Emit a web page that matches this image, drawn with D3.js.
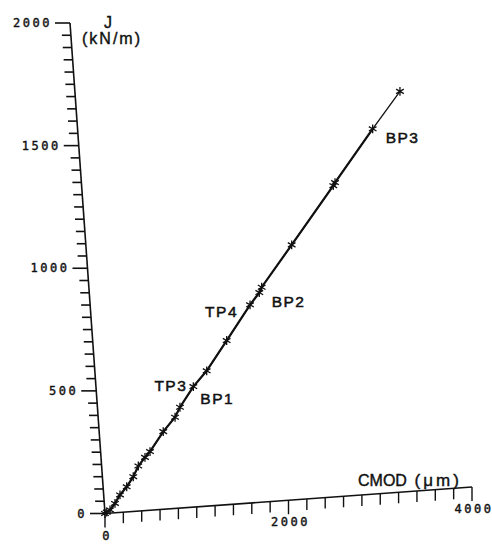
<!DOCTYPE html>
<html>
<head>
<meta charset="utf-8">
<script src="https://cdn.jsdelivr.net/npm/d3@7"></script>
<style>
  html, body { margin: 0; padding: 0; background: #fff; }
  svg { display: block; }
</style>
</head>
<body>
<script>
// ---- data ----
const cmod = [0, 20, 57, 116, 177, 256, 335, 398, 477, 536, 695, 834, 895, 1056, 1213, 1453, 1734, 1844, 1874, 2232, 2729, 2750, 3200, 3525];
const jVal = [0, 5, 13, 38, 71, 102, 141, 183, 216, 238, 315, 370, 409, 489, 549, 666, 804, 851, 872, 1035, 1263, 1275, 1482, 1626];
const xTickLabels = ["0", "2000", "4000"];
const yTickLabels = ["0", "500", "1000", "1500", "2000"];
const annotNames = ["TP3", "BP1", "TP4", "BP2", "BP3"];
const annotIndex = [13, 13, 16, 18, 22];

const W = 492, H = 546;
const svg = d3.select("body").append("svg").attr("width", W).attr("height", H);
const ink = "#111";

// skewed projection built from linear scales
const xAlongX = d3.scaleLinear().domain([0, 4000]).range([105, 472]);
const xAlongY = d3.scaleLinear().domain([0, 4000]).range([513.5, 487]);
const jAlongX = d3.scaleLinear().domain([0, 2000]).range([0, -35]);
const jAlongY = d3.scaleLinear().domain([0, 2000]).range([0, -490.5]);
const P = (u, v) => [xAlongX(u) + jAlongX(v), xAlongY(u) + jAlongY(v)];

const g = svg.append("g");

// axes lines
const o = P(0, 0), xe = P(4000, 0), ye = P(0, 2000);
g.append("line").attr("x1", o[0]).attr("y1", o[1]).attr("x2", xe[0]).attr("y2", xe[1])
  .attr("stroke", ink).attr("stroke-width", 1.6);
g.append("line").attr("x1", o[0]).attr("y1", o[1]).attr("x2", ye[0]).attr("y2", ye[1])
  .attr("stroke", ink).attr("stroke-width", 1.6);

// y ticks (horizontal on screen)
const yTicks = jAlongY.ticks(40);
yTicks.forEach(v => {
  const p = P(0, v);
  const major = v % 500 === 0;
  const len = major ? 15 : 9;
  g.append("line").attr("x1", p[0] - len).attr("y1", p[1]).attr("x2", p[0]).attr("y2", p[1])
    .attr("stroke", ink).attr("stroke-width", 1.6);
});
yTickLabels.forEach(t => {
  const p = P(0, +t);
  g.append("text").attr("x", p[0] - 18).attr("y", p[1]).attr("dy", "0.35em")
    .attr("text-anchor", "end")
    .attr("font-family", "DejaVu Sans Mono").attr("font-size", 12)
    .attr("letter-spacing", 2.5).attr("fill", ink)
    .attr("stroke", ink).attr("stroke-width", 0.4).text(t);
});

// x ticks (vertical on screen)
const xTicks = xAlongX.ticks(20);
xTicks.forEach(u => {
  const p = P(u, 0);
  const major = u % 2000 === 0;
  const len = major ? 14 : 11;
  g.append("line").attr("x1", p[0]).attr("y1", p[1]).attr("x2", p[0]).attr("y2", p[1] + len)
    .attr("stroke", ink).attr("stroke-width", 1.4);
});
xTickLabels.forEach(t => {
  const p = P(+t, 0);
  g.append("text").attr("x", p[0] + 2).attr("y", p[1] + 22).attr("dy", "0.35em")
    .attr("text-anchor", "middle")
    .attr("font-family", "DejaVu Sans Mono").attr("font-size", 12)
    .attr("letter-spacing", 2.5).attr("fill", ink)
    .attr("stroke", ink).attr("stroke-width", 0.4).text(t);
});

// axis titles
g.append("text").attr("x", 108).attr("y", 28).attr("text-anchor", "middle")
  .attr("font-family", "Liberation Sans, Arial, sans-serif").attr("font-size", 16)
  .attr("fill", ink).attr("stroke", ink).attr("stroke-width", 0.4).text("J");
g.append("text").attr("x", 112).attr("y", 44).attr("text-anchor", "middle")
  .attr("font-family", "Liberation Sans, Arial, sans-serif").attr("font-size", 16)
  .attr("letter-spacing", 2)
  .attr("fill", ink).attr("stroke", ink).attr("stroke-width", 0.4).text("(kN/m)");
const ct = g.append("text").attr("x", 358).attr("y", 486)
  .attr("font-family", "Liberation Sans, Arial, sans-serif").attr("font-size", 16)
  .attr("fill", ink).attr("stroke", ink).attr("stroke-width", 0.4);
ct.append("tspan").text("CMOD");
ct.append("tspan").attr("font-size", 17).attr("letter-spacing", 3).text(" (μm)");

// curve
const pts = cmod.map((c, i) => P(c, jVal[i]));
const line = d3.line().x(d => d[0]).y(d => d[1]);
g.append("path").attr("d", line(pts)).attr("fill", "none")
  .attr("stroke", ink).attr("stroke-width", 1.3);
g.append("path").attr("d", line(pts.slice(0, 23))).attr("fill", "none")
  .attr("stroke", ink).attr("stroke-width", 2.2);

// markers
const sym = d3.symbol().type(d3.symbolAsterisk).size(55);
g.selectAll(".m").data(pts).enter().append("path")
  .attr("transform", d => `translate(${d[0]},${d[1]})`)
  .attr("d", sym).attr("fill", "none").attr("stroke", ink).attr("stroke-width", 1.3);

// annotations
const offs = { TP3: [-6, 4, "end"], BP1: [7, 17, "start"], TP4: [-12, 12, "end"], BP2: [10, 20, "start"], BP3: [13, 14, "start"] };
annotNames.forEach((n, i) => {
  const k = annotIndex[i];
  const p = P(cmod[k], jVal[k]);
  const o2 = offs[n];
  g.append("text").attr("x", p[0] + o2[0]).attr("y", p[1] + o2[1])
    .attr("text-anchor", o2[2])
    .attr("font-family", "Liberation Sans, Arial, sans-serif").attr("font-size", 15.5)
    .attr("letter-spacing", 1.5)
    .attr("fill", ink).attr("stroke", ink).attr("stroke-width", 0.5).text(n);
});
</script>
</body>
</html>
